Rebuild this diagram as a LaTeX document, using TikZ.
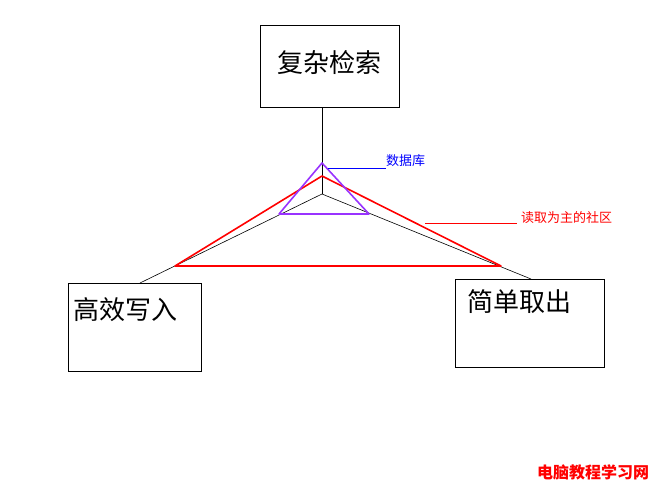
\documentclass[tikz,border=0pt]{standalone}
\usepackage{fontspec}
\usepackage{xcolor}
\usepackage{tikz}
\usetikzlibrary{positioning,calc}
\newfontfamily\cjk{Noto Sans CJK SC}
\definecolor{cRed}{HTML}{FF0000}
\definecolor{cViolet}{HTML}{9933FF}
\definecolor{cBlue}{HTML}{0000FF}
\tikzset{
  box/.style={draw=black, line width=0.8pt, fill=white, inner sep=0pt},
  big/.style={font=\cjk\fontsize{26}{28}\selectfont, inner sep=0pt},
  tag/.style={font=\cjk\fontsize{13}{15}\selectfont, inner sep=0pt},
  edge/.style={line width=0.6pt, draw=black},
  tri/.style={line width=1.6pt, draw=#1, line join=round},
}

\begin{document}
\begin{tikzpicture}[x=1pt,y=-1pt]
  \useasboundingbox (0,0) rectangle (664,495);
  % corner boxes
  \node[box, minimum width=139pt, minimum height=82pt] (top) at (329.5,66) {};
  \node[box, minimum width=133pt, minimum height=88pt] (left) at (134.5,327) {};
  \node[box, minimum width=149pt, minimum height=88pt] (right) at (529.5,323) {};
  \node[big] (topt) at (329,63) {复杂检索};
  \node[big, anchor=west] (leftt) at (73,310) {高效写入};
  \node[big, anchor=west] (rightt) at (467,302) {简单取出};
  % axes from the hub
  \coordinate (hub) at (322,194);
  \coordinate (lfoot) at (140,283);
  \coordinate (rfoot) at (531,279);
  \draw[edge] (hub |- top.south) -- (hub);
  \draw[edge] (hub) -- (lfoot);
  \draw[edge] (hub) -- (rfoot);
  % community triangle
  \coordinate (rtop) at (322,176);
  \coordinate (rleft) at (175,266);
  \coordinate (rright) at (501,266);
  \draw[tri=cRed] (rtop) -- (rleft) -- (rright) -- cycle;
  % database triangle
  \coordinate (ptop) at (322,163);
  \coordinate (pleft) at (279,214);
  \coordinate (pright) at (369,214);
  \draw[tri=cViolet] (ptop) -- (pleft) -- (pright) -- cycle;
  % labels
  \node[tag, text=cBlue, anchor=west] (db) at (386,161) {数据库};
  \coordinate (dbtick) at (328,168);
  \draw[line width=0.8pt, draw=cBlue] (dbtick) -- (dbtick -| db.west);
  \node[tag, text=cRed, anchor=west] (comm) at (521,218) {读取为主的社区};
  \coordinate (commtick) at (425,223);
  \draw[line width=0.8pt, draw=cRed] (commtick) -- ($(commtick -| comm.west)+(-4,0)$);
  \node[font=\cjk\bfseries\fontsize{16}{18}\selectfont, text=cRed, anchor=west, inner sep=0pt] (mark) at (537,472) {电脑教程学习网};
\end{tikzpicture}
\end{document}
